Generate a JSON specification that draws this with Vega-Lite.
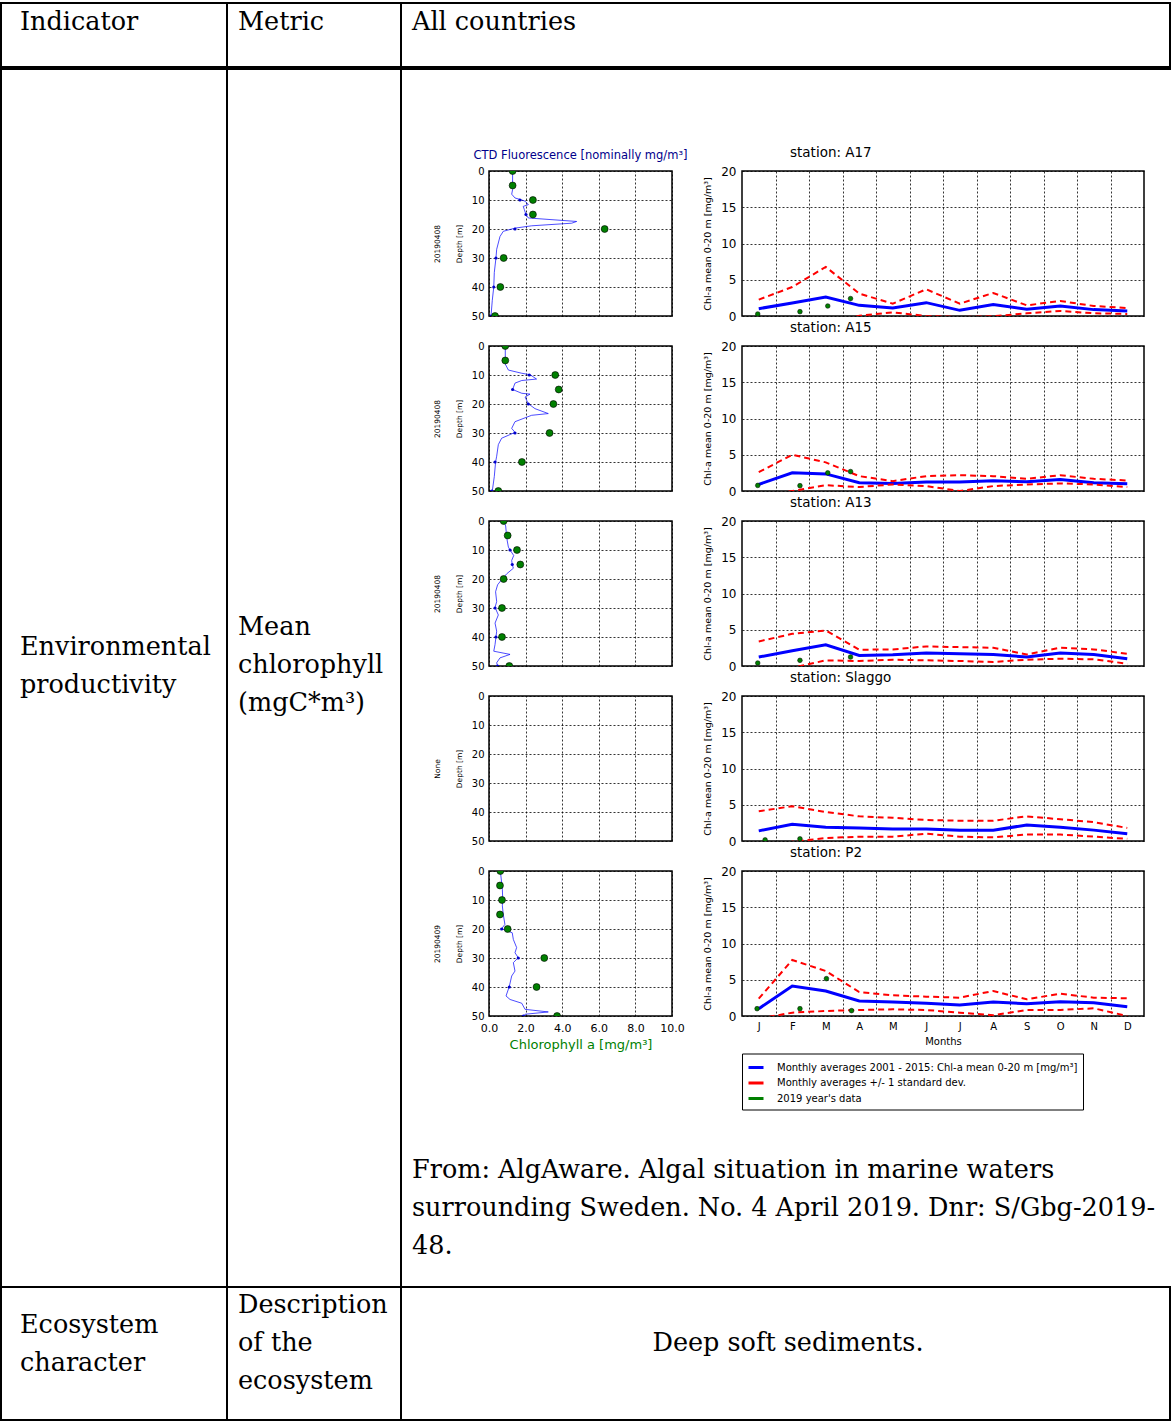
{
"$schema": "https://vega.github.io/schema/vega-lite/v6.json",
"background": "white",
"padding": {"left": 0, "top": 2, "right": 0, "bottom": 0},
"autosize": {"type": "pad"},
"columns": 3,
"spacing": 0,
"align": "each",
"bounds": "flush",
"resolve": {"scale": {"x": "independent", "y": "independent", "color": "independent"}, "legend": {"color": "independent"}},
"datasets": {
"ctd": [
{"st":"A17","d":0,"v":1.29},{"st":"A17","d":6.4,"v":1.29},{"st":"A17","d":8,"v":1.24},{"st":"A17","d":9.3,"v":1.42},{"st":"A17","d":9.8,"v":1.69},{"st":"A17","d":10.4,"v":1.97},{"st":"A17","d":11.6,"v":2.15},{"st":"A17","d":12.2,"v":1.87},{"st":"A17","d":13.3,"v":1.93},{"st":"A17","d":15,"v":2.02},{"st":"A17","d":16.2,"v":2.15},{"st":"A17","d":17.4,"v":4.79},{"st":"A17","d":18,"v":4.52},{"st":"A17","d":18.9,"v":2.33},{"st":"A17","d":19.7,"v":1.42},{"st":"A17","d":20.8,"v":0.78},{"st":"A17","d":22.6,"v":0.6},{"st":"A17","d":27,"v":0.42},{"st":"A17","d":30,"v":0.38},{"st":"A17","d":35,"v":0.29},{"st":"A17","d":40,"v":0.26},{"st":"A17","d":44.6,"v":0.18},{"st":"A17","d":50,"v":0.11},
{"st":"A15","d":0,"v":0.89},{"st":"A15","d":6.25,"v":0.89},{"st":"A15","d":8.3,"v":1.06},{"st":"A15","d":9.4,"v":1.79},{"st":"A15","d":9.9,"v":2.24},{"st":"A15","d":11.4,"v":2.6},{"st":"A15","d":11.9,"v":1.79},{"st":"A15","d":12.8,"v":1.42},{"st":"A15","d":15,"v":1.29},{"st":"A15","d":16.3,"v":1.79},{"st":"A15","d":16.6,"v":2.24},{"st":"A15","d":17.6,"v":1.97},{"st":"A15","d":19.9,"v":2.15},{"st":"A15","d":21.6,"v":2.51},{"st":"A15","d":23.3,"v":3.24},{"st":"A15","d":23.9,"v":2.33},{"st":"A15","d":26.1,"v":1.42},{"st":"A15","d":28.4,"v":1.24},{"st":"A15","d":29.8,"v":1.42},{"st":"A15","d":31.8,"v":0.69},{"st":"A15","d":34,"v":0.51},{"st":"A15","d":38,"v":0.42},{"st":"A15","d":40,"v":0.36},{"st":"A15","d":45,"v":0.29},{"st":"A15","d":50,"v":0.18},
{"st":"A13","d":0,"v":0.8},{"st":"A13","d":1.7,"v":0.91},{"st":"A13","d":6.25,"v":0.98},{"st":"A13","d":9,"v":1.06},{"st":"A13","d":10,"v":1.15},{"st":"A13","d":11.9,"v":1.35},{"st":"A13","d":13.6,"v":1.24},{"st":"A13","d":15,"v":1.27},{"st":"A13","d":16.3,"v":1.33},{"st":"A13","d":18.2,"v":0.97},{"st":"A13","d":19.9,"v":0.73},{"st":"A13","d":22,"v":0.47},{"st":"A13","d":24.4,"v":0.36},{"st":"A13","d":27.8,"v":0.42},{"st":"A13","d":29.8,"v":0.33},{"st":"A13","d":32.4,"v":0.51},{"st":"A13","d":35.2,"v":0.33},{"st":"A13","d":38,"v":0.42},{"st":"A13","d":40,"v":0.38},{"st":"A13","d":42.6,"v":0.33},{"st":"A13","d":44.9,"v":0.26},{"st":"A13","d":46,"v":1.15},{"st":"A13","d":47.2,"v":0.6},{"st":"A13","d":48.9,"v":0.42},{"st":"A13","d":50,"v":0.47},
{"st":"P2","d":0,"v":0.62},{"st":"P2","d":6.3,"v":0.73},{"st":"P2","d":9.8,"v":0.75},{"st":"P2","d":12,"v":0.73},{"st":"P2","d":15,"v":0.78},{"st":"P2","d":18.4,"v":0.87},{"st":"P2","d":19.9,"v":0.69},{"st":"P2","d":21.3,"v":1.27},{"st":"P2","d":23.6,"v":1.33},{"st":"P2","d":26.4,"v":1.51},{"st":"P2","d":28.2,"v":1.42},{"st":"P2","d":29.9,"v":1.6},{"st":"P2","d":31.6,"v":1.33},{"st":"P2","d":34.5,"v":1.42},{"st":"P2","d":36.2,"v":1.24},{"st":"P2","d":39.8,"v":1.11},{"st":"P2","d":43.1,"v":0.93},{"st":"P2","d":44.3,"v":1.15},{"st":"P2","d":45.6,"v":1.79},{"st":"P2","d":47.7,"v":1.97},{"st":"P2","d":48.6,"v":3.24},{"st":"P2","d":49.4,"v":1.97},{"st":"P2","d":50,"v":1.88}
],
"ctdpts": [
{"st":"A17","d":10,"v":1.69},{"st":"A17","d":15,"v":2.02},{"st":"A17","d":20,"v":1.42},{"st":"A17","d":30,"v":0.38},{"st":"A17","d":40,"v":0.26},{"st":"A17","d":50,"v":0.11},
{"st":"A15","d":10,"v":2.2},{"st":"A15","d":15,"v":1.29},{"st":"A15","d":20,"v":2.15},{"st":"A15","d":30,"v":1.42},{"st":"A15","d":40,"v":0.33},{"st":"A15","d":50,"v":0.15},
{"st":"A13","d":10,"v":1.15},{"st":"A13","d":15,"v":1.27},{"st":"A13","d":20,"v":0.73},{"st":"A13","d":30,"v":0.33},{"st":"A13","d":40,"v":0.38},{"st":"A13","d":50,"v":0.47},
{"st":"P2","d":20,"v":0.69},{"st":"P2","d":30,"v":1.6},{"st":"P2","d":40,"v":1.11},{"st":"P2","d":50,"v":1.88}
],
"chl": [
{"st":"A17","d":0,"v":1.29},{"st":"A17","d":5,"v":1.29},{"st":"A17","d":10,"v":2.4},{"st":"A17","d":15,"v":2.4},{"st":"A17","d":20,"v":6.32},{"st":"A17","d":30,"v":0.8},{"st":"A17","d":40,"v":0.62},{"st":"A17","d":50,"v":0.33},
{"st":"A15","d":0,"v":0.89},{"st":"A15","d":5,"v":0.89},{"st":"A15","d":10,"v":3.62},{"st":"A15","d":15,"v":3.81},{"st":"A15","d":20,"v":3.52},{"st":"A15","d":30,"v":3.31},{"st":"A15","d":40,"v":1.8},{"st":"A15","d":50,"v":0.51},
{"st":"A13","d":0,"v":0.8},{"st":"A13","d":5,"v":1.02},{"st":"A13","d":10,"v":1.53},{"st":"A13","d":15,"v":1.71},{"st":"A13","d":20,"v":0.8},{"st":"A13","d":30,"v":0.71},{"st":"A13","d":40,"v":0.71},{"st":"A13","d":50,"v":1.11},
{"st":"P2","d":0,"v":0.62},{"st":"P2","d":5,"v":0.6},{"st":"P2","d":10,"v":0.71},{"st":"P2","d":15,"v":0.6},{"st":"P2","d":20,"v":1.02},{"st":"P2","d":30,"v":3.02},{"st":"P2","d":40,"v":2.6},{"st":"P2","d":50,"v":3.72}
],
"clim": [
{"st":"A17","m":0.5,"mean":1.01,"upper":2.26,"lower":-0.24},{"st":"A17","m":1.5,"mean":1.8,"upper":4.0,"lower":-0.4},{"st":"A17","m":2.5,"mean":2.63,"upper":6.77,"lower":-1.5},{"st":"A17","m":3.5,"mean":1.47,"upper":3.09,"lower":0.05},{"st":"A17","m":4.5,"mean":1.1,"upper":1.7,"lower":0.5},{"st":"A17","m":5.5,"mean":1.84,"upper":3.69,"lower":0.0},{"st":"A17","m":6.5,"mean":0.78,"upper":1.7,"lower":-0.14},{"st":"A17","m":7.5,"mean":1.57,"upper":3.18,"lower":-0.04},{"st":"A17","m":8.5,"mean":0.92,"upper":1.47,"lower":0.37},{"st":"A17","m":9.5,"mean":1.38,"upper":2.07,"lower":0.69},{"st":"A17","m":10.5,"mean":0.88,"upper":1.38,"lower":0.38},{"st":"A17","m":11.5,"mean":0.69,"upper":1.1,"lower":0.28},
{"st":"A15","m":0.5,"mean":0.91,"upper":2.59,"lower":-0.77},{"st":"A15","m":1.5,"mean":2.5,"upper":5.0,"lower":0.0},{"st":"A15","m":2.5,"mean":2.36,"upper":3.95,"lower":0.8},{"st":"A15","m":3.5,"mean":1.14,"upper":2.05,"lower":0.55},{"st":"A15","m":4.5,"mean":1.05,"upper":1.36,"lower":0.9},{"st":"A15","m":5.5,"mean":1.23,"upper":2.05,"lower":0.68},{"st":"A15","m":6.5,"mean":1.23,"upper":2.18,"lower":0.0},{"st":"A15","m":7.5,"mean":1.41,"upper":2.05,"lower":0.68},{"st":"A15","m":8.5,"mean":1.27,"upper":1.68,"lower":0.9},{"st":"A15","m":9.5,"mean":1.59,"upper":2.18,"lower":1.05},{"st":"A15","m":10.5,"mean":1.14,"upper":1.68,"lower":0.9},{"st":"A15","m":11.5,"mean":1.0,"upper":1.45,"lower":0.55},
{"st":"A13","m":0.5,"mean":1.24,"upper":3.39,"lower":-0.91},{"st":"A13","m":1.5,"mean":2.1,"upper":4.44,"lower":-0.24},{"st":"A13","m":2.5,"mean":2.93,"upper":4.9,"lower":0.78},{"st":"A13","m":3.5,"mean":1.46,"upper":2.24,"lower":0.69},{"st":"A13","m":4.5,"mean":1.56,"upper":2.29,"lower":0.87},{"st":"A13","m":5.5,"mean":1.78,"upper":2.7,"lower":0.78},{"st":"A13","m":6.5,"mean":1.69,"upper":2.6,"lower":0.69},{"st":"A13","m":7.5,"mean":1.6,"upper":2.52,"lower":0.55},{"st":"A13","m":8.5,"mean":1.24,"upper":1.6,"lower":0.87},{"st":"A13","m":9.5,"mean":1.78,"upper":2.52,"lower":1.0},{"st":"A13","m":10.5,"mean":1.6,"upper":2.29,"lower":0.92},{"st":"A13","m":11.5,"mean":1.0,"upper":1.69,"lower":0.32},
{"st":"Slaggo","m":0.5,"mean":1.4,"upper":4.1,"lower":-1.3},{"st":"Slaggo","m":1.5,"mean":2.3,"upper":4.8,"lower":-0.1},{"st":"Slaggo","m":2.5,"mean":1.9,"upper":4.0,"lower":0.4},{"st":"Slaggo","m":3.5,"mean":1.8,"upper":3.4,"lower":0.6},{"st":"Slaggo","m":4.5,"mean":1.65,"upper":3.2,"lower":0.6},{"st":"Slaggo","m":5.5,"mean":1.65,"upper":2.9,"lower":1.0},{"st":"Slaggo","m":6.5,"mean":1.5,"upper":2.8,"lower":0.6},{"st":"Slaggo","m":7.5,"mean":1.5,"upper":2.8,"lower":0.5},{"st":"Slaggo","m":8.5,"mean":2.2,"upper":3.4,"lower":0.9},{"st":"Slaggo","m":9.5,"mean":1.9,"upper":3.0,"lower":0.9},{"st":"Slaggo","m":10.5,"mean":1.5,"upper":2.6,"lower":0.6},{"st":"Slaggo","m":11.5,"mean":1.0,"upper":1.8,"lower":0.3},
{"st":"P2","m":0.5,"mean":1.01,"upper":2.39,"lower":-0.37},{"st":"P2","m":1.5,"mean":4.14,"upper":7.72,"lower":0.46},{"st":"P2","m":2.5,"mean":3.45,"upper":6.2,"lower":0.69},{"st":"P2","m":3.5,"mean":2.07,"upper":3.31,"lower":0.83},{"st":"P2","m":4.5,"mean":1.93,"upper":2.85,"lower":0.92},{"st":"P2","m":5.5,"mean":1.75,"upper":2.67,"lower":0.83},{"st":"P2","m":6.5,"mean":1.52,"upper":2.53,"lower":0.46},{"st":"P2","m":7.5,"mean":1.93,"upper":3.45,"lower":0.1},{"st":"P2","m":8.5,"mean":1.7,"upper":2.3,"lower":0.83},{"st":"P2","m":9.5,"mean":1.98,"upper":3.08,"lower":0.83},{"st":"P2","m":10.5,"mean":1.84,"upper":2.53,"lower":1.06},{"st":"P2","m":11.5,"mean":1.29,"upper":2.44,"lower":0.0}
],
"obs": [
{"st":"A17","m":0.47,"v":0.28},{"st":"A17","m":1.73,"v":0.6},{"st":"A17","m":2.56,"v":1.38},{"st":"A17","m":3.24,"v":2.4},
{"st":"A15","m":0.47,"v":0.77},{"st":"A15","m":1.73,"v":0.73},{"st":"A15","m":2.56,"v":2.5},{"st":"A15","m":3.24,"v":2.68},
{"st":"A13","m":0.47,"v":0.41},{"st":"A13","m":1.73,"v":0.78},{"st":"A13","m":3.24,"v":1.24},
{"st":"Slaggo","m":0.69,"v":0.15},{"st":"Slaggo","m":1.73,"v":0.3},
{"st":"P2","m":0.45,"v":1.01},{"st":"P2","m":1.73,"v":1.01},{"st":"P2","m":2.52,"v":5.15},{"st":"P2","m":3.27,"v":0.74}
]
},
"concat": [
{"width": 226, "height": 64, "view": {"stroke": "#000000", "strokeWidth": 2}, "data": {"values": [{"t": "Indicator"}]}, "mark": {"type": "text", "font": "DejaVu Serif", "fontSize": 25.5, "align": "left", "baseline": "middle", "dx": -94, "dy": -13, "color": "#000000"}, "encoding": {"text": {"field": "t", "type": "nominal"}}},
{"width": 174, "height": 64, "view": {"stroke": "#000000", "strokeWidth": 2}, "data": {"values": [{"t": "Metric"}]}, "mark": {"type": "text", "font": "DejaVu Serif", "fontSize": 25.5, "align": "left", "baseline": "middle", "dx": -76, "dy": -13, "color": "#000000"}, "encoding": {"text": {"field": "t", "type": "nominal"}}},
{"width": 769, "height": 64, "view": {"stroke": "#000000", "strokeWidth": 2}, "data": {"values": [{"t": "All countries"}]}, "mark": {"type": "text", "font": "DejaVu Serif", "fontSize": 25.5, "align": "left", "baseline": "middle", "dx": -373.5, "dy": -13, "color": "#000000"}, "encoding": {"text": {"field": "t", "type": "nominal"}}},

{"width": 226, "height": 2, "data": {"values": [{"t": ""}]}, "mark": {"type": "text"}, "encoding": {"text": {"field": "t", "type": "nominal"}}},
{"width": 174, "height": 2, "data": {"values": [{"t": ""}]}, "mark": {"type": "text"}, "encoding": {"text": {"field": "t", "type": "nominal"}}},
{"width": 769, "height": 2, "view": {"stroke": "#000000", "strokeWidth": 2}, "data": {"values": [{"t": ""}]}, "mark": {"type": "text"}, "encoding": {"text": {"field": "t", "type": "nominal"}}},

{"width": 226, "height": 1218, "view": {"stroke": "#000000", "strokeWidth": 2}, "data": {"values": [{"t": ["Environmental", "productivity"]}]}, "mark": {"type": "text", "font": "DejaVu Serif", "fontSize": 25.5, "lineHeight": 38, "align": "left", "baseline": "middle", "dx": -94, "dy": -31, "color": "#000000"}, "encoding": {"text": {"field": "t", "type": "nominal"}}},
{"width": 174, "height": 1218, "view": {"stroke": "#000000", "strokeWidth": 2}, "data": {"values": [{"t": ["Mean", "chlorophyll", "(mgC*m³)"]}]}, "mark": {"type": "text", "font": "DejaVu Serif", "fontSize": 25.5, "lineHeight": 38, "align": "left", "baseline": "middle", "dx": -76, "dy": -51, "color": "#000000"}, "encoding": {"text": {"field": "t", "type": "nominal"}}},
{"columns": 4, "spacing": 0, "align": "each", "bounds": "flush",
 "resolve": {"scale": {"x": "independent", "y": "independent", "color": "independent"}, "legend": {"color": "independent"}},
 "concat": [
  {"width": 88, "height": 102, "data": {"values": [{"t": ""}]}, "mark": {"type": "text"}, "encoding": {"text": {"field": "t", "type": "nominal"}}},
  {"width": 183, "height": 1, "data": {"values": [{"t": ""}]}, "mark": {"type": "text"}, "encoding": {"text": {"field": "t", "type": "nominal"}}},
  {"width": 70, "height": 1, "data": {"values": [{"t": ""}]}, "mark": {"type": "text"}, "encoding": {"text": {"field": "t", "type": "nominal"}}},
  {"width": 402, "height": 1, "data": {"values": [{"t": ""}]}, "mark": {"type": "text"}, "encoding": {"text": {"field": "t", "type": "nominal"}}},

  {"width": 88, "height": 1, "data": {"values": [{"t": ""}]}, "mark": {"type": "text"}, "encoding": {"text": {"field": "t", "type": "nominal"}}},
  {"width": 183, "height": 145, "view": {"stroke": "#000000", "strokeWidth": 1.5},
   "title": {"text": "CTD Fluorescence [nominally mg/m³]", "color": "#00008b", "fontSize": 11.5, "offset": 5, "frame": "group"},
   "encoding": {
    "x": {"field": "v", "type": "quantitative", "scale": {"domain": [0, 10], "nice": false}, "axis": {"values": [0, 2, 4, 6, 8, 10], "labels": false, "title": null}},
    "y": {"field": "d", "type": "quantitative", "scale": {"domain": [0, 50], "nice": false, "reverse": true}, "axis": {"values": [0, 10, 20, 30, 40, 50], "labelFontSize": 10, "labelPadding": 5, "title": ["20190408", "Depth [m]"], "titleFontSize": 7.5, "titleLineHeight": 22, "titlePadding": 8}}},
   "layer": [
    {"data": {"name": "ctd"}, "transform": [{"filter": "datum.st === 'A17'"}], "mark": {"type": "line", "color": "#0000ff", "strokeWidth": 0.7, "clip": true}, "encoding": {"order": {"field": "d", "type": "quantitative"}}},
    {"data": {"name": "ctdpts"}, "transform": [{"filter": "datum.st === 'A17'"}], "mark": {"type": "circle", "color": "#0000cc", "size": 10, "opacity": 1, "clip": true}},
    {"data": {"name": "chl"}, "transform": [{"filter": "datum.st === 'A17'"}], "mark": {"type": "circle", "color": "#008000", "size": 48, "opacity": 1, "stroke": "#000000", "strokeWidth": 0.6, "clip": true}}
   ]},
  {"width": 70, "height": 1, "data": {"values": [{"t": ""}]}, "mark": {"type": "text"}, "encoding": {"text": {"field": "t", "type": "nominal"}}},
  {"width": 402, "height": 145, "view": {"stroke": "#000000", "strokeWidth": 1.5},
   "title": {"text": "station: A17", "anchor": "start", "dx": 48, "offset": 6, "fontSize": 13.5, "frame": "group"},
   "encoding": {
    "x": {"field": "m", "type": "quantitative", "scale": {"domain": [0, 12], "nice": false}, "axis": {"values": [1, 2, 3, 4, 5, 6, 7, 8, 9, 10, 11], "labels": false, "title": null}},
    "y": {"field": "v", "type": "quantitative", "scale": {"domain": [0, 20], "nice": false}, "axis": {"values": [0, 5, 10, 15, 20], "labelFontSize": 12, "labelPadding": 6, "title": "Chl-a mean 0-20 m [mg/m³]", "titleFontSize": 9.5, "titlePadding": 8}}},
   "layer": [
    {"data": {"name": "clim"}, "transform": [{"filter": "datum.st === 'A17'"}, {"fold": ["mean"], "as": ["k", "v"]}], "mark": {"type": "line", "color": "#0000ff", "strokeWidth": 3, "clip": true}},
    {"data": {"name": "clim"}, "transform": [{"filter": "datum.st === 'A17'"}, {"fold": ["upper", "lower"], "as": ["k", "v"]}], "mark": {"type": "line", "color": "#ff0000", "strokeWidth": 2, "strokeDash": [6, 4], "clip": true}, "encoding": {"detail": {"field": "k", "type": "nominal"}}},
    {"data": {"name": "obs"}, "transform": [{"filter": "datum.st === 'A17'"}], "mark": {"type": "circle", "color": "#008000", "size": 22, "opacity": 1, "stroke": "#000000", "strokeWidth": 0.5, "clip": true}}
   ]},

  {"width": 88, "height": 29.5, "data": {"values": [{"t": ""}]}, "mark": {"type": "text"}, "encoding": {"text": {"field": "t", "type": "nominal"}}},
  {"width": 183, "height": 1, "data": {"values": [{"t": ""}]}, "mark": {"type": "text"}, "encoding": {"text": {"field": "t", "type": "nominal"}}},
  {"width": 70, "height": 1, "data": {"values": [{"t": ""}]}, "mark": {"type": "text"}, "encoding": {"text": {"field": "t", "type": "nominal"}}},
  {"width": 402, "height": 1, "data": {"values": [{"t": ""}]}, "mark": {"type": "text"}, "encoding": {"text": {"field": "t", "type": "nominal"}}},

  {"width": 88, "height": 1, "data": {"values": [{"t": ""}]}, "mark": {"type": "text"}, "encoding": {"text": {"field": "t", "type": "nominal"}}},
  {"width": 183, "height": 145, "view": {"stroke": "#000000", "strokeWidth": 1.5},
   "encoding": {
    "x": {"field": "v", "type": "quantitative", "scale": {"domain": [0, 10], "nice": false}, "axis": {"values": [0, 2, 4, 6, 8, 10], "labels": false, "title": null}},
    "y": {"field": "d", "type": "quantitative", "scale": {"domain": [0, 50], "nice": false, "reverse": true}, "axis": {"values": [0, 10, 20, 30, 40, 50], "labelFontSize": 10, "labelPadding": 5, "title": ["20190408", "Depth [m]"], "titleFontSize": 7.5, "titleLineHeight": 22, "titlePadding": 8}}},
   "layer": [
    {"data": {"name": "ctd"}, "transform": [{"filter": "datum.st === 'A15'"}], "mark": {"type": "line", "color": "#0000ff", "strokeWidth": 0.7, "clip": true}, "encoding": {"order": {"field": "d", "type": "quantitative"}}},
    {"data": {"name": "ctdpts"}, "transform": [{"filter": "datum.st === 'A15'"}], "mark": {"type": "circle", "color": "#0000cc", "size": 10, "opacity": 1, "clip": true}},
    {"data": {"name": "chl"}, "transform": [{"filter": "datum.st === 'A15'"}], "mark": {"type": "circle", "color": "#008000", "size": 48, "opacity": 1, "stroke": "#000000", "strokeWidth": 0.6, "clip": true}}
   ]},
  {"width": 70, "height": 1, "data": {"values": [{"t": ""}]}, "mark": {"type": "text"}, "encoding": {"text": {"field": "t", "type": "nominal"}}},
  {"width": 402, "height": 145, "view": {"stroke": "#000000", "strokeWidth": 1.5},
   "title": {"text": "station: A15", "anchor": "start", "dx": 48, "offset": 6, "fontSize": 13.5, "frame": "group"},
   "encoding": {
    "x": {"field": "m", "type": "quantitative", "scale": {"domain": [0, 12], "nice": false}, "axis": {"values": [1, 2, 3, 4, 5, 6, 7, 8, 9, 10, 11], "labels": false, "title": null}},
    "y": {"field": "v", "type": "quantitative", "scale": {"domain": [0, 20], "nice": false}, "axis": {"values": [0, 5, 10, 15, 20], "labelFontSize": 12, "labelPadding": 6, "title": "Chl-a mean 0-20 m [mg/m³]", "titleFontSize": 9.5, "titlePadding": 8}}},
   "layer": [
    {"data": {"name": "clim"}, "transform": [{"filter": "datum.st === 'A15'"}, {"fold": ["mean"], "as": ["k", "v"]}], "mark": {"type": "line", "color": "#0000ff", "strokeWidth": 3, "clip": true}},
    {"data": {"name": "clim"}, "transform": [{"filter": "datum.st === 'A15'"}, {"fold": ["upper", "lower"], "as": ["k", "v"]}], "mark": {"type": "line", "color": "#ff0000", "strokeWidth": 2, "strokeDash": [6, 4], "clip": true}, "encoding": {"detail": {"field": "k", "type": "nominal"}}},
    {"data": {"name": "obs"}, "transform": [{"filter": "datum.st === 'A15'"}], "mark": {"type": "circle", "color": "#008000", "size": 22, "opacity": 1, "stroke": "#000000", "strokeWidth": 0.5, "clip": true}}
   ]},

  {"width": 88, "height": 29.5, "data": {"values": [{"t": ""}]}, "mark": {"type": "text"}, "encoding": {"text": {"field": "t", "type": "nominal"}}},
  {"width": 183, "height": 1, "data": {"values": [{"t": ""}]}, "mark": {"type": "text"}, "encoding": {"text": {"field": "t", "type": "nominal"}}},
  {"width": 70, "height": 1, "data": {"values": [{"t": ""}]}, "mark": {"type": "text"}, "encoding": {"text": {"field": "t", "type": "nominal"}}},
  {"width": 402, "height": 1, "data": {"values": [{"t": ""}]}, "mark": {"type": "text"}, "encoding": {"text": {"field": "t", "type": "nominal"}}},

  {"width": 88, "height": 1, "data": {"values": [{"t": ""}]}, "mark": {"type": "text"}, "encoding": {"text": {"field": "t", "type": "nominal"}}},
  {"width": 183, "height": 145, "view": {"stroke": "#000000", "strokeWidth": 1.5},
   "encoding": {
    "x": {"field": "v", "type": "quantitative", "scale": {"domain": [0, 10], "nice": false}, "axis": {"values": [0, 2, 4, 6, 8, 10], "labels": false, "title": null}},
    "y": {"field": "d", "type": "quantitative", "scale": {"domain": [0, 50], "nice": false, "reverse": true}, "axis": {"values": [0, 10, 20, 30, 40, 50], "labelFontSize": 10, "labelPadding": 5, "title": ["20190408", "Depth [m]"], "titleFontSize": 7.5, "titleLineHeight": 22, "titlePadding": 8}}},
   "layer": [
    {"data": {"name": "ctd"}, "transform": [{"filter": "datum.st === 'A13'"}], "mark": {"type": "line", "color": "#0000ff", "strokeWidth": 0.7, "clip": true}, "encoding": {"order": {"field": "d", "type": "quantitative"}}},
    {"data": {"name": "ctdpts"}, "transform": [{"filter": "datum.st === 'A13'"}], "mark": {"type": "circle", "color": "#0000cc", "size": 10, "opacity": 1, "clip": true}},
    {"data": {"name": "chl"}, "transform": [{"filter": "datum.st === 'A13'"}], "mark": {"type": "circle", "color": "#008000", "size": 48, "opacity": 1, "stroke": "#000000", "strokeWidth": 0.6, "clip": true}}
   ]},
  {"width": 70, "height": 1, "data": {"values": [{"t": ""}]}, "mark": {"type": "text"}, "encoding": {"text": {"field": "t", "type": "nominal"}}},
  {"width": 402, "height": 145, "view": {"stroke": "#000000", "strokeWidth": 1.5},
   "title": {"text": "station: A13", "anchor": "start", "dx": 48, "offset": 6, "fontSize": 13.5, "frame": "group"},
   "encoding": {
    "x": {"field": "m", "type": "quantitative", "scale": {"domain": [0, 12], "nice": false}, "axis": {"values": [1, 2, 3, 4, 5, 6, 7, 8, 9, 10, 11], "labels": false, "title": null}},
    "y": {"field": "v", "type": "quantitative", "scale": {"domain": [0, 20], "nice": false}, "axis": {"values": [0, 5, 10, 15, 20], "labelFontSize": 12, "labelPadding": 6, "title": "Chl-a mean 0-20 m [mg/m³]", "titleFontSize": 9.5, "titlePadding": 8}}},
   "layer": [
    {"data": {"name": "clim"}, "transform": [{"filter": "datum.st === 'A13'"}, {"fold": ["mean"], "as": ["k", "v"]}], "mark": {"type": "line", "color": "#0000ff", "strokeWidth": 3, "clip": true}},
    {"data": {"name": "clim"}, "transform": [{"filter": "datum.st === 'A13'"}, {"fold": ["upper", "lower"], "as": ["k", "v"]}], "mark": {"type": "line", "color": "#ff0000", "strokeWidth": 2, "strokeDash": [6, 4], "clip": true}, "encoding": {"detail": {"field": "k", "type": "nominal"}}},
    {"data": {"name": "obs"}, "transform": [{"filter": "datum.st === 'A13'"}], "mark": {"type": "circle", "color": "#008000", "size": 22, "opacity": 1, "stroke": "#000000", "strokeWidth": 0.5, "clip": true}}
   ]},

  {"width": 88, "height": 29.5, "data": {"values": [{"t": ""}]}, "mark": {"type": "text"}, "encoding": {"text": {"field": "t", "type": "nominal"}}},
  {"width": 183, "height": 1, "data": {"values": [{"t": ""}]}, "mark": {"type": "text"}, "encoding": {"text": {"field": "t", "type": "nominal"}}},
  {"width": 70, "height": 1, "data": {"values": [{"t": ""}]}, "mark": {"type": "text"}, "encoding": {"text": {"field": "t", "type": "nominal"}}},
  {"width": 402, "height": 1, "data": {"values": [{"t": ""}]}, "mark": {"type": "text"}, "encoding": {"text": {"field": "t", "type": "nominal"}}},

  {"width": 88, "height": 1, "data": {"values": [{"t": ""}]}, "mark": {"type": "text"}, "encoding": {"text": {"field": "t", "type": "nominal"}}},
  {"width": 183, "height": 145, "view": {"stroke": "#000000", "strokeWidth": 1.5},
   "encoding": {
    "x": {"field": "v", "type": "quantitative", "scale": {"domain": [0, 10], "nice": false}, "axis": {"values": [0, 2, 4, 6, 8, 10], "labels": false, "title": null}},
    "y": {"field": "d", "type": "quantitative", "scale": {"domain": [0, 50], "nice": false, "reverse": true}, "axis": {"values": [0, 10, 20, 30, 40, 50], "labelFontSize": 10, "labelPadding": 5, "title": ["None", "Depth [m]"], "titleFontSize": 7.5, "titleLineHeight": 22, "titlePadding": 8}}},
   "layer": [
    {"data": {"name": "ctd"}, "transform": [{"filter": "datum.st === 'Slaggo'"}], "mark": {"type": "line", "color": "#0000ff", "strokeWidth": 0.7, "clip": true}, "encoding": {"order": {"field": "d", "type": "quantitative"}}}
   ]},
  {"width": 70, "height": 1, "data": {"values": [{"t": ""}]}, "mark": {"type": "text"}, "encoding": {"text": {"field": "t", "type": "nominal"}}},
  {"width": 402, "height": 145, "view": {"stroke": "#000000", "strokeWidth": 1.5},
   "title": {"text": "station: Slaggo", "anchor": "start", "dx": 48, "offset": 6, "fontSize": 13.5, "frame": "group"},
   "encoding": {
    "x": {"field": "m", "type": "quantitative", "scale": {"domain": [0, 12], "nice": false}, "axis": {"values": [1, 2, 3, 4, 5, 6, 7, 8, 9, 10, 11], "labels": false, "title": null}},
    "y": {"field": "v", "type": "quantitative", "scale": {"domain": [0, 20], "nice": false}, "axis": {"values": [0, 5, 10, 15, 20], "labelFontSize": 12, "labelPadding": 6, "title": "Chl-a mean 0-20 m [mg/m³]", "titleFontSize": 9.5, "titlePadding": 8}}},
   "layer": [
    {"data": {"name": "clim"}, "transform": [{"filter": "datum.st === 'Slaggo'"}, {"fold": ["mean"], "as": ["k", "v"]}], "mark": {"type": "line", "color": "#0000ff", "strokeWidth": 3, "clip": true}},
    {"data": {"name": "clim"}, "transform": [{"filter": "datum.st === 'Slaggo'"}, {"fold": ["upper", "lower"], "as": ["k", "v"]}], "mark": {"type": "line", "color": "#ff0000", "strokeWidth": 2, "strokeDash": [6, 4], "clip": true}, "encoding": {"detail": {"field": "k", "type": "nominal"}}},
    {"data": {"name": "obs"}, "transform": [{"filter": "datum.st === 'Slaggo'"}], "mark": {"type": "circle", "color": "#008000", "size": 22, "opacity": 1, "stroke": "#000000", "strokeWidth": 0.5, "clip": true}}
   ]},

  {"width": 88, "height": 29.5, "data": {"values": [{"t": ""}]}, "mark": {"type": "text"}, "encoding": {"text": {"field": "t", "type": "nominal"}}},
  {"width": 183, "height": 1, "data": {"values": [{"t": ""}]}, "mark": {"type": "text"}, "encoding": {"text": {"field": "t", "type": "nominal"}}},
  {"width": 70, "height": 1, "data": {"values": [{"t": ""}]}, "mark": {"type": "text"}, "encoding": {"text": {"field": "t", "type": "nominal"}}},
  {"width": 402, "height": 1, "data": {"values": [{"t": ""}]}, "mark": {"type": "text"}, "encoding": {"text": {"field": "t", "type": "nominal"}}},

  {"width": 88, "height": 1, "data": {"values": [{"t": ""}]}, "mark": {"type": "text"}, "encoding": {"text": {"field": "t", "type": "nominal"}}},
  {"width": 183, "height": 145, "view": {"stroke": "#000000", "strokeWidth": 1.5},
   "encoding": {
    "x": {"field": "v", "type": "quantitative", "scale": {"domain": [0, 10], "nice": false}, "axis": {"values": [0, 2, 4, 6, 8, 10], "labelFontSize": 11, "labelPadding": 6, "format": ".1f", "title": "Chlorophyll a [mg/m³]", "titleColor": "#008000", "titleFontSize": 13, "titlePadding": 5}},
    "y": {"field": "d", "type": "quantitative", "scale": {"domain": [0, 50], "nice": false, "reverse": true}, "axis": {"values": [0, 10, 20, 30, 40, 50], "labelFontSize": 10, "labelPadding": 5, "title": ["20190409", "Depth [m]"], "titleFontSize": 7.5, "titleLineHeight": 22, "titlePadding": 8}}},
   "layer": [
    {"data": {"name": "ctd"}, "transform": [{"filter": "datum.st === 'P2'"}], "mark": {"type": "line", "color": "#0000ff", "strokeWidth": 0.7, "clip": true}, "encoding": {"order": {"field": "d", "type": "quantitative"}}},
    {"data": {"name": "ctdpts"}, "transform": [{"filter": "datum.st === 'P2'"}], "mark": {"type": "circle", "color": "#0000cc", "size": 10, "opacity": 1, "clip": true}},
    {"data": {"name": "chl"}, "transform": [{"filter": "datum.st === 'P2'"}], "mark": {"type": "circle", "color": "#008000", "size": 48, "opacity": 1, "stroke": "#000000", "strokeWidth": 0.6, "clip": true}}
   ]},
  {"width": 70, "height": 1, "data": {"values": [{"t": ""}]}, "mark": {"type": "text"}, "encoding": {"text": {"field": "t", "type": "nominal"}}},
  {"width": 402, "height": 145, "view": {"stroke": "#000000", "strokeWidth": 1.5},
   "title": {"text": "station: P2", "anchor": "start", "dx": 48, "offset": 6, "fontSize": 13.5, "frame": "group"},
   "encoding": {
    "x": {"field": "m", "type": "quantitative", "scale": {"domain": [0, 12], "nice": false}, "axis": {"values": [0.5, 1, 1.5, 2, 2.5, 3, 3.5, 4, 4.5, 5, 5.5, 6, 6.5, 7, 7.5, 8, 8.5, 9, 9.5, 10, 10.5, 11, 11.5], "gridOpacity": {"condition": {"test": "datum.value % 1 === 0", "value": 1}, "value": 0}, "labelExpr": "datum.value % 1 === 0 ? '' : substring('JFMAMJJASOND', floor(datum.value), floor(datum.value) + 1)", "labelFontSize": 10, "labelPadding": 5, "title": "Months", "titleFontSize": 10, "titlePadding": 5}},
    "y": {"field": "v", "type": "quantitative", "scale": {"domain": [0, 20], "nice": false}, "axis": {"values": [0, 5, 10, 15, 20], "labelFontSize": 12, "labelPadding": 6, "title": "Chl-a mean 0-20 m [mg/m³]", "titleFontSize": 9.5, "titlePadding": 8}}},
   "layer": [
    {"data": {"name": "clim"}, "transform": [{"filter": "datum.st === 'P2'"}, {"fold": ["mean"], "as": ["k", "v"]}], "mark": {"type": "line", "strokeWidth": 3, "clip": true},
     "encoding": {"color": {"datum": "Monthly averages 2001 - 2015: Chl-a mean 0-20 m [mg/m³]", "type": "nominal",
       "scale": {"domain": ["Monthly averages 2001 - 2015: Chl-a mean 0-20 m [mg/m³]", "Monthly averages +/- 1 standard dev.", "2019 year's data"], "range": ["#0000ff", "#ff0000", "#008000"]},
       "legend": {"orient": "none", "legendX": 0, "legendY": 182.5, "title": null, "padding": 5, "strokeColor": "#000000", "fillColor": "#ffffff", "direction": "vertical",
         "labelFont": "DejaVu Sans", "labelFontSize": 10, "labelColor": "#000000", "labelLimit": 400, "labelOffset": 12, "rowPadding": 0.5,
         "symbolType": "stroke", "symbolSize": 225, "symbolStrokeWidth": 3, "symbolOpacity": 1}}}},
    {"data": {"name": "clim"}, "transform": [{"filter": "datum.st === 'P2'"}, {"fold": ["upper", "lower"], "as": ["k", "v"]}], "mark": {"type": "line", "strokeWidth": 2, "strokeDash": [6, 4], "clip": true}, "encoding": {"detail": {"field": "k", "type": "nominal"}, "color": {"datum": "Monthly averages +/- 1 standard dev.", "type": "nominal"}}},
    {"data": {"name": "obs"}, "transform": [{"filter": "datum.st === 'P2'"}], "mark": {"type": "circle", "size": 22, "opacity": 1, "stroke": "#000000", "strokeWidth": 0.5, "clip": true}, "encoding": {"color": {"datum": "2019 year's data", "type": "nominal"}}}
   ]},

  {"width": 88, "height": 200, "data": {"values": [{"t": ["From: AlgAware. Algal situation in marine waters", "surrounding Sweden. No. 4 April 2019. Dnr: S/Gbg-2019-", "48."]}]}, "mark": {"type": "text", "font": "DejaVu Serif", "fontSize": 25.5, "lineHeight": 38, "align": "left", "baseline": "middle", "dx": -33, "dy": 54, "color": "#000000"}, "encoding": {"text": {"field": "t", "type": "nominal"}}}
 ]},

{"width": 226, "height": 133, "view": {"stroke": "#000000", "strokeWidth": 2}, "data": {"values": [{"t": ["Ecosystem", "character"]}]}, "mark": {"type": "text", "font": "DejaVu Serif", "fontSize": 25.5, "lineHeight": 38, "align": "left", "baseline": "middle", "dx": -94, "dy": -28.5, "color": "#000000"}, "encoding": {"text": {"field": "t", "type": "nominal"}}},
{"width": 174, "height": 133, "view": {"stroke": "#000000", "strokeWidth": 2}, "data": {"values": [{"t": ["Description", "of the", "ecosystem"]}]}, "mark": {"type": "text", "font": "DejaVu Serif", "fontSize": 25.5, "lineHeight": 38, "align": "left", "baseline": "middle", "dx": -76, "dy": -48.5, "color": "#000000"}, "encoding": {"text": {"field": "t", "type": "nominal"}}},
{"width": 769, "height": 133, "view": {"stroke": "#000000", "strokeWidth": 2}, "data": {"values": [{"t": "Deep soft sediments."}]}, "mark": {"type": "text", "font": "DejaVu Serif", "fontSize": 25.5, "align": "center", "baseline": "middle", "dx": 2.5, "dy": -10.5, "color": "#000000"}, "encoding": {"text": {"field": "t", "type": "nominal"}}}
],
"config": {
 "view": {"stroke": null},
 "font": "DejaVu Sans",
 "axis": {"grid": true, "domain": false, "ticks": false, "gridColor": "#000000", "gridDash": [2, 2], "gridOpacity": 1, "gridWidth": 0.8, "labelColor": "#000000", "titleColor": "#000000", "labelFont": "DejaVu Sans", "titleFont": "DejaVu Sans", "titleFontWeight": "normal", "labelFlush": false, "labelOverlap": false},
 "title": {"font": "DejaVu Sans", "fontWeight": "normal", "color": "#000000"}
}
}
